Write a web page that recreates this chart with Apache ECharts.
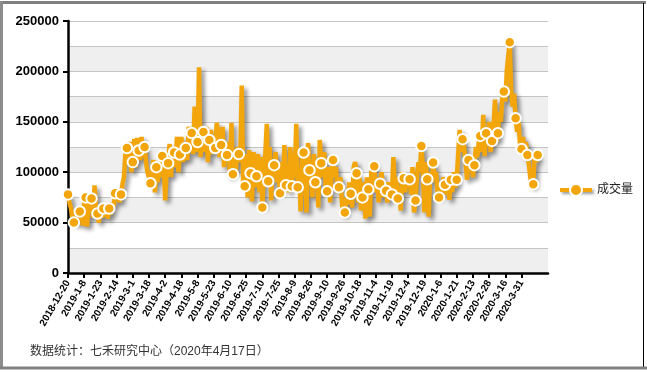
<!DOCTYPE html>
<html>
<head>
<meta charset="utf-8">
<script src="https://cdn.jsdelivr.net/npm/echarts@6/dist/echarts.min.js"></script>
<style>html,body{margin:0;padding:0;background:#fff}#c{width:647px;height:372px}</style>
</head>
<body>
<div id="c"></div>
<script>
// x-axis tick labels (every 11 trading days)
const tickLabels = ['2018-12-20','2019-1-8','2019-1-23','2019-2-14','2019-3-1','2019-3-18','2019-4-2','2019-4-18','2019-5-8','2019-5-23','2019-6-10','2019-6-25','2019-7-10','2019-7-25','2019-8-9','2019-8-26','2019-9-10','2019-9-26','2019-10-18','2019-11-4','2019-11-19','2019-12-4','2019-12-19','2020-1-6','2020-1-21','2020-2-13','2020-2-28','2020-3-16','2020-3-31'];
const yTicks = [0, 50000, 100000, 150000, 200000, 250000];
const seriesName = '成交量';
const footnote = '数据统计：七禾研究中心（2020年4月17日）';
// daily volume, in thousands
const volumeK = [
78,70,64,55,50,58,48,55,61,66,47,70,75,46,72,62,74,55,87,65,
59,50,66,55,64,56,68,54,64,58,70,66,79,72,80,70,78,88,95,118,
124,108,130,100,110,133,105,134,121.5,112,135,115,125,110,100,95,89,98,112,80,
105,90,110,95,116,105,72,100,109,128,95,125,119.5,105,135,100,117.5,135,110,130,
124,112,145,130,139,118,165,120,130,204,115,135,140,120,145,110,132,142,118,135,
124,149,140,115,127,145,105,125,117,130,95,149,98,120,100,125,118,110,186,90,
86,118,75,122,99,71,120,85,96,118,80,115,65,100,118,148,91,125,72,110,
107,120,90,100,79,110,88,127,87,105,80,125,86,118,95,148,85,100,61,112,
119.5,100,60,129,102,110,75,118,90,100,65,132,109,95,120,85,81,105,70,100,
112,95,105,80,85,95,70,58,60,75,68,90,78.6,65,105,110,99,70,95,62,
75,90,54,95,83,56,100,110,106,80,95,70,88.5,100,75,90,81.6,70,90,85,
78,115,80,95,74,85,62,100,94,80,98,85,93,78,105,60,72,95,110,100,
126,105,60,110,93,56,100,90,109.6,95,100,80,75,90,80,95,87.5,78,95,72.6,
92.5,80,100,85,92.5,118,142,120,132.8,125,110,92.5,112,100,115,95,107,125,115,130,
136,120,157,116,138.7,125,150,120,131,145,172,130,138.7,160,150,175,180,170,200,215,
229,180,165,178,153.6,140,150,128,123,135,115,130,117,108,95,86,88,120,110,117
];
const padCount = 7; // empty categories after the last trading day

const cats = [];
for (let i = 0; i < volumeK.length + padCount; i++) cats.push(String(i));
const orange = '#F2A60C';
const seriesData = volumeK.map((v, i) => ({
  value: Math.round(v * 1000),
  symbol: (i % 4 === 0 || i === volumeK.length - 1) ? 'circle' : 'none'
}));

const font = 'Liberation Sans, Arial, Noto Sans CJK SC, sans-serif';
const chart = echarts.init(document.getElementById('c'), null, {renderer: 'canvas'});
chart.setOption({
  backgroundColor: '#fff',
  animation: false,
  textStyle: {fontFamily: font},
  grid: {left: 68, right: 99, top: 21, bottom: 99, containLabel: false},
  legend: {
    data: [seriesName], orient: 'vertical', left: 553, top: 178,
    itemWidth: 32, itemHeight: 15, itemGap: 8,
    lineStyle: {width: 4, shadowColor: 'rgba(0,0,0,0.4)', shadowBlur: 3, shadowOffsetX: 2, shadowOffsetY: 2},
    itemStyle: {color: orange, borderColor: '#fff', borderWidth: 2},
    textStyle: {fontSize: 12, color: '#222', fontFamily: font}
  },
  title: {
    text: footnote, left: 25, top: 341,
    textStyle: {fontSize: 12, fontWeight: 'normal', color: '#333', fontFamily: font}
  },
  xAxis: {
    type: 'category', data: cats, boundaryGap: false,
    axisLine: {lineStyle: {color: '#000', width: 2.5}},
    axisTick: {interval: 10, length: 5, lineStyle: {color: '#000', width: 2}},
    axisLabel: {
      interval: 10, rotate: 60, fontSize: 10, fontWeight: 'bold', color: '#000', margin: 8,
      showMaxLabel: false,
      formatter: (v, i) => tickLabels[i / 11] || ''
    },
    splitLine: {show: false}
  },
  yAxis: [{
    type: 'value', min: yTicks[0], max: yTicks[yTicks.length - 1], interval: yTicks[1] - yTicks[0],
    axisLine: {show: true, lineStyle: {color: '#000', width: 2.5}},
    axisTick: {show: true, length: 5, lineStyle: {color: '#000', width: 2}},
    axisLabel: {fontSize: 13, fontWeight: 'bold', color: '#000', margin: 9, formatter: v => String(v)},
    splitLine: {show: false}
  }, {
    type: 'value', min: yTicks[0], max: yTicks[yTicks.length - 1], interval: (yTicks[1] - yTicks[0]) / 2,
    axisLine: {show: false}, axisTick: {show: false}, axisLabel: {show: false},
    splitLine: {show: true, lineStyle: {color: '#c4c4c4', width: 1}},
    splitArea: {show: true, areaStyle: {color: ['#efefef', '#ffffff']}}
  }],
  series: [{
    name: seriesName, type: 'line', yAxisIndex: 0, data: seriesData,
    showAllSymbol: true, symbol: 'circle', symbolSize: 10.5,
    lineStyle: {color: orange, width: 4.5, shadowColor: 'rgba(0,0,0,0.45)', shadowBlur: 4, shadowOffsetX: 3, shadowOffsetY: 3},
    itemStyle: {color: orange, borderColor: '#fff', borderWidth: 2},
    z: 3
  }],
  graphic: [
    {type: 'line', shape: {x1: 0, y1: 2.5, x2: 646, y2: 2.5}, style: {stroke: '#808080', lineWidth: 3}, silent: true},
    {type: 'line', shape: {x1: 1.5, y1: 1, x2: 1.5, y2: 369}, style: {stroke: '#8c8c8c', lineWidth: 3}, silent: true},
    {type: 'line', shape: {x1: 643.5, y1: 3, x2: 643.5, y2: 367}, style: {stroke: '#000', lineWidth: 1}, silent: true},
    {type: 'line', shape: {x1: 0, y1: 368, x2: 647, y2: 368}, style: {stroke: '#808080', lineWidth: 3}, silent: true}
  ]
});
</script>
</body>
</html>
